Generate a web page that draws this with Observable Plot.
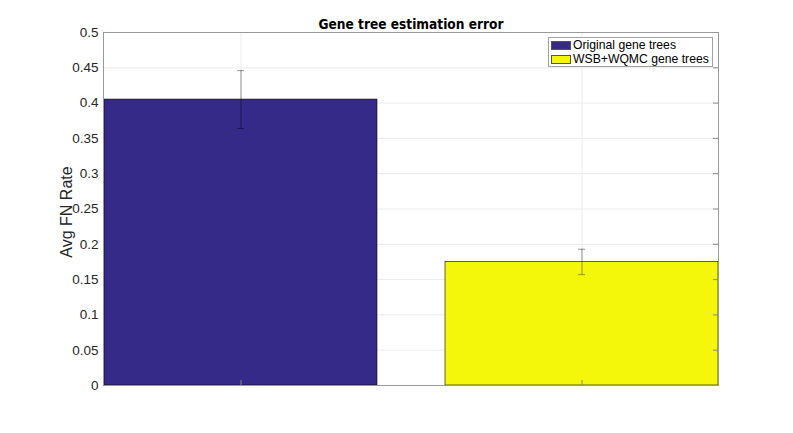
<!DOCTYPE html>
<html>
<head>
<meta charset="utf-8">
<script src="https://cdn.jsdelivr.net/npm/d3@7"></script>
<script src="https://cdn.jsdelivr.net/npm/@observablehq/plot@0.6"></script>
<style>
  html, body { margin: 0; padding: 0; background: #fff; }
  #wrap { position: relative; width: 793px; height: 433px; font-family: "Liberation Sans", Arial, sans-serif; }
  #legend { position: absolute; left: 548px; top: 37px; width: 165px; height: 30px; border: 1px solid #a0a0a0; background: #fff; box-sizing: border-box; font-size: 12.2px; color: #000; padding: 1px 0 0 2px; white-space: nowrap; }
  .item { display: flex; align-items: center; height: 13.5px; line-height: 13px; }
  .sw { width: 20px; height: 9px; border: 1px solid #555; box-sizing: border-box; margin-right: 2px; flex: none; }
</style>
</head>
<body>
<div id="wrap"></div>
<script>
const categories = ["Original gene trees", "WSB+WQMC gene trees"];
const values = [0.405, 0.175];
const errLow = [0.364, 0.157];
const errHigh = [0.446, 0.193];
const colors = ["#352a87", "#f5f70a"];
const yTicks = [0, 0.05, 0.1, 0.15, 0.2, 0.25, 0.3, 0.35, 0.4, 0.45, 0.5];
const title = "Gene tree estimation error";
const yLabel = "Avg FN Rate";

const data = categories.map((c, i) => ({cat: c, value: values[i], lo: errLow[i], hi: errHigh[i], color: colors[i]}));

const chart = Plot.plot({
  width: 793,
  height: 433,
  marginLeft: 103,
  marginRight: 75,
  marginTop: 32,
  marginBottom: 48,
  style: {fontFamily: "Liberation Sans, Arial, sans-serif", fontSize: "13.5px", color: "#262626", background: "#fff"},
  x: {type: "band", domain: categories, paddingInner: 0.2, paddingOuter: 0, axis: null},
  y: {domain: [0, 0.5], ticks: yTicks},
  marks: [
    Plot.gridY(yTicks, {stroke: "#ececec", strokeOpacity: 1}),
    Plot.gridX(categories, {stroke: "#ececec", strokeOpacity: 1}),
    Plot.barY(data, {x: "cat", y: "value", fill: "color", stroke: "#000", strokeWidth: 0.6}),
    Plot.ruleX(data, {x: "cat", y1: "lo", y2: "hi", stroke: "#000", strokeOpacity: 0.4, strokeWidth: 1}),
    Plot.tickY(data, {x: "cat", y: "lo", stroke: "#000", strokeOpacity: 0.4, insetLeft: 133, insetRight: 133}),
    Plot.tickY(data, {x: "cat", y: "hi", stroke: "#000", strokeOpacity: 0.4, insetLeft: 133, insetRight: 133}),
    Plot.axisY(yTicks, {tickSize: 0, tickPadding: 5, tickFormat: d => String(+d.toFixed(2)), fontSize: 13.5, fill: "#262626"}),
    Plot.text([yLabel], {frameAnchor: "left", dx: -37, dy: 3, rotate: -90, textAnchor: "middle", lineAnchor: "middle",
      text: d => d, fontSize: 16, fill: "#262626"}),
    Plot.tickY(yTicks, {y: d => d, stroke: "#888", insetLeft: 610}),
    Plot.ruleX(categories, {x: d => d, y1: 0, y2: 0.007, stroke: "#888"}),
    Plot.frame({stroke: "#999"}),
    Plot.text([title], {frameAnchor: "top", dy: -4, lineAnchor: "bottom", text: d => d, className: "ttl",
      fontFamily: "DejaVu Sans, sans-serif", fontWeight: "bold", fontSize: 14, fill: "#000"})
  ]
});

const wrap = document.getElementById("wrap");
wrap.appendChild(chart);
const tt = chart.querySelector(".ttl text");
if (tt) { tt.setAttribute("textLength", 185); tt.setAttribute("lengthAdjust", "spacingAndGlyphs"); }
const leg = document.createElement("div");
leg.id = "legend";
categories.forEach((c, i) => {
  const it = document.createElement("div");
  it.className = "item";
  const sw = document.createElement("span");
  sw.className = "sw";
  sw.style.background = colors[i];
  const t = document.createElement("span");
  t.textContent = c;
  it.appendChild(sw); it.appendChild(t);
  leg.appendChild(it);
});
wrap.appendChild(leg);
</script>
</body>
</html>
